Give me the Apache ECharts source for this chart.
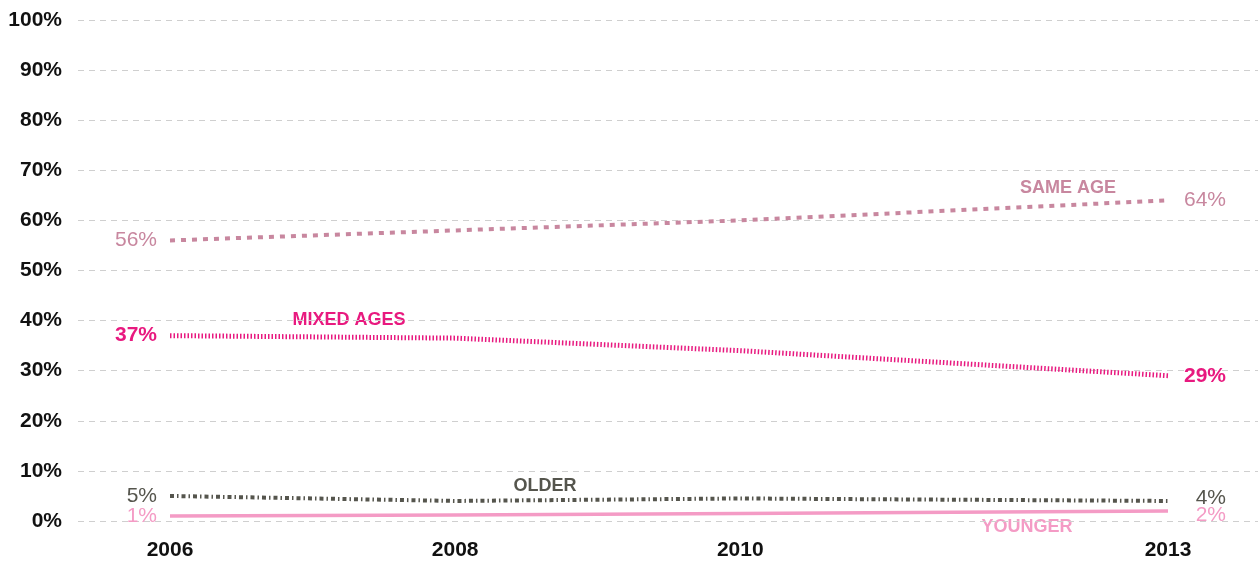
<!DOCTYPE html>
<html>
<head>
<meta charset="utf-8">
<script src="https://cdn.jsdelivr.net/npm/echarts@6/dist/echarts.min.js"></script>
<style>
  html, body { margin: 0; padding: 0; background: #ffffff; }
  #chart { width: 1258px; height: 562px; }
</style>
</head>
<body>
<div id="chart"></div>
<script>
// Survey years and share of each grouping (%)
const years = [2006, 2008, 2010, 2013];
const sameAge = [56, 58, 60, 64];
const mixedAges = [37, 36.5, 34, 29];
const older = [5, 4, 4.5, 4];
const younger = [1, 1.2, 1.5, 2];

const FONT = '"Liberation Sans", Arial, Helvetica, sans-serif';

const COLORS = {
  same: '#c8879f',
  mixed: '#e8197f',
  older: '#55554d',
  younger: '#f49bc5'
};

// Builds points with value labels on the first and last survey year;
// nudge shifts the end labels vertically so close neighbours stay legible
function points(values, color, bold, nudge) {
  const last = values.length - 1;
  const weight = bold ? 'bold' : 'normal';
  const n = nudge || 0;
  const pad = n < 0 ? [0, 0, -2 * n, 0] : [2 * n, 0, 0, 0];
  return years.map((yr, i) => {
    const item = { value: [yr, values[i]] };
    if (i === 0) {
      item.label = {
        show: true, position: 'left', distance: 12,
        formatter: values[i] + '%',
        color: color, fontSize: 21, fontFamily: FONT, fontWeight: weight
      };
    } else if (i === last) {
      item.label = {
        show: true, position: 'right', distance: 12,
        formatter: '{v|' + values[i] + '%}',
        rich: {
          v: {
            width: 45, align: 'right', padding: pad,
            color: color, fontSize: 21, fontFamily: FONT, fontWeight: weight
          }
        }
      };
    }
    return item;
  });
}

function lineSeries(name, values, color, width, dash, bold, nudge) {
  return {
    name: name,
    type: 'line',
    xAxisIndex: 1,
    yAxisIndex: 1,
    symbol: 'circle',
    symbolSize: 2,
    showSymbol: true,
    clip: false,
    data: points(values, color, bold, nudge),
    lineStyle: { color: color, width: width, type: dash, cap: 'butt' },
    itemStyle: { color: 'rgba(0,0,0,0)', borderWidth: 0 },
    labelLayout: { hideOverlap: false },
    emphasis: { disabled: true }
  };
}

const chart = echarts.init(document.getElementById('chart'), null, { renderer: 'canvas' });

const option = {
  animation: false,
  backgroundColor: '#ffffff',
  grid: [
    { left: 78, right: 0, top: 20, bottom: 41 },
    { left: 170, right: 90, top: 20, bottom: 41 }
  ],
  xAxis: [
    { gridIndex: 0, type: 'value', min: 0, max: 1, show: false },
    {
      gridIndex: 1, type: 'value', min: years[0], max: years[years.length - 1],
      axisLine: { show: false },
      axisTick: { show: false },
      splitLine: { show: false },
      axisLabel: {
        customValues: years,
        formatter: v => String(v),
        color: '#111111', fontSize: 21, fontWeight: 'bold', fontFamily: FONT,
        margin: 19
      }
    }
  ],
  yAxis: [
    {
      gridIndex: 0, type: 'value', min: 0, max: 100, interval: 10,
      axisLine: { show: false },
      axisTick: { show: false },
      axisLabel: {
        formatter: '{value}%',
        color: '#111111', fontSize: 21, fontWeight: 'bold', fontFamily: FONT,
        margin: 16
      },
      splitLine: { lineStyle: { color: '#cfcfcf', width: 1, type: [6, 5] } }
    },
    { gridIndex: 1, type: 'value', min: 0, max: 100, show: false }
  ],
  series: [
    lineSeries('SAME AGE', sameAge, COLORS.same, 4, [5, 6], false, 0),
    lineSeries('MIXED AGES', mixedAges, COLORS.mixed, 5, [1.5, 2], true, 0),
    lineSeries('OLDER', older, COLORS.older, 4, [4, 3, 1.5, 3], false, -3),
    lineSeries('YOUNGER', younger, COLORS.younger, 3.5, 'solid', false, 4)
  ],
  graphic: [
    { type: 'text', x: 1068, y: 188, style: { text: 'SAME AGE', fill: COLORS.same, font: 'bold 18px ' + FONT, align: 'center', verticalAlign: 'middle' } },
    { type: 'text', x: 349, y: 320, style: { text: 'MIXED AGES', fill: COLORS.mixed, font: 'bold 18px ' + FONT, align: 'center', verticalAlign: 'middle' } },
    { type: 'text', x: 545, y: 486, style: { text: 'OLDER', fill: COLORS.older, font: 'bold 18px ' + FONT, align: 'center', verticalAlign: 'middle' } },
    { type: 'text', x: 1027, y: 527, style: { text: 'YOUNGER', fill: COLORS.younger, font: 'bold 18px ' + FONT, align: 'center', verticalAlign: 'middle' } }
  ]
};

chart.setOption(option);
</script>
</body>
</html>
